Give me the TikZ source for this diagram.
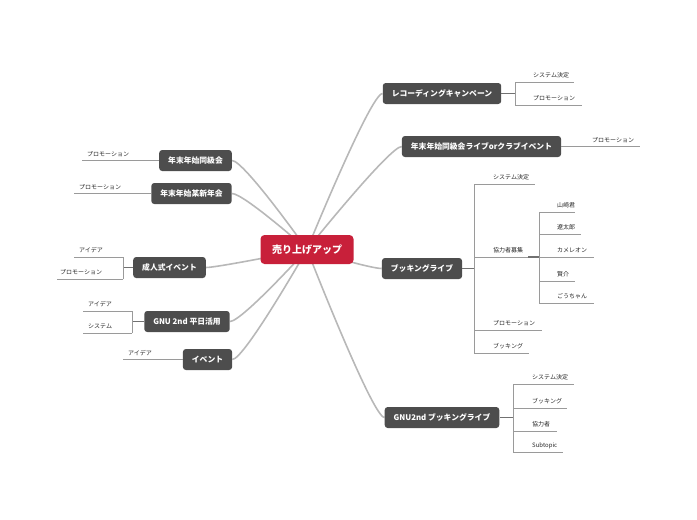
\documentclass[tikz,border=0pt]{standalone}
\usepackage{fontspec}
\setmainfont{Noto Sans CJK JP}
\usetikzlibrary{positioning, backgrounds}
\definecolor{hubred}{HTML}{C8203A}
\definecolor{topicgray}{HTML}{4D4D4D}
\definecolor{linkgray}{HTML}{B8B8B8}
\definecolor{twiggray}{HTML}{9A9A9A}

\begin{document}
\begin{tikzpicture}[x=1pt, y=-1pt,
    hub/.style={fill=hubred, text=white, rounded corners=4pt, minimum height=29pt, inner xsep=11.5pt, font=\fontsize{10}{10}\selectfont\bfseries},
    topic/.style={fill=topicgray, text=white, rounded corners=3pt, minimum height=21pt, inner xsep=9pt, font=\fontsize{7.8}{8}\selectfont\bfseries},
    leaf/.style={anchor=base west, inner sep=0pt, yshift=4.5pt, text=black!85, font=\fontsize{6}{6}\selectfont},
    link/.style={draw=linkgray, line width=1.6pt},
    conn/.style={draw=topicgray!80, line width=1.2pt},
    twig/.style={draw=twiggray, line width=0.5pt}]

\useasboundingbox (0,0) rectangle (697,520);

% main topic
\node[hub] (hub) at (307,249.5) {売り上げアップ};

% right side
\node[topic] (rec) at (442,93.5) {レコーディングキャンペーン};
\node[topic] (club) at (481.5,146.5) {年末年始同級会ライブorクラブイベント};
\node[topic] (book) at (422,268.5) {ブッキングライブ};
\node[topic] (gnubook) at (442,417.5) {GNU2nd ブッキングライブ};

% left side
\node[topic] (dokyu) at (195.5,160.5) {年末年始同級会};
\node[topic] (shinnen) at (191.5,193.5) {年末年始某新年会};
\node[topic] (seijin) at (169.5,267.5) {成人式イベント};
\node[topic] (heijitsu) at (187,321.5) {GNU 2nd 平日活用};
\node[topic] (event) at (207.5,359.5) {イベント};

\begin{scope}[on background layer]
  \foreach \t in {rec, club, book, gnubook}
    \draw[link] (hub.center) .. controls +(0,0) and +(-12,0) .. (\t.west);
  \foreach \t in {dokyu, shinnen, seijin, heijitsu, event}
    \draw[link] (hub.center) .. controls +(0,0) and +(12,0) .. (\t.east);
\end{scope}

% レコーディングキャンペーン
\coordinate (recb) at (515,93.5);
\draw[conn] (rec.east) -- (recb);
\draw[twig] (515,82) -- (515,105);
\foreach \y/\e/\t [count=\i] in {82/574/システム決定, 105/582/プロモーション}{
  \draw[twig] (515,\y) -- (\e,\y);
  \node[leaf] (rec\i) at (533,\y) {\t};
}

% 年末年始同級会ライブ
\coordinate (clube) at (640,146.5);
\draw[twig] (club.east) -- (clube);
\node[leaf] (club1) at (592,146.5) {プロモーション};

% ブッキングライブ
\coordinate (bookb) at (474,268.5);
\draw[conn] (book.east) -- (bookb);
\draw[twig] (474,184) -- (474,353);
\foreach \y/\e/\t [count=\i] in {184/535/システム決定, 257/528/協力者募集, 330/542/プロモーション, 353/529/ブッキング}{
  \draw[twig] (474,\y) -- (\e,\y);
  \node[leaf] (book\i) at (493,\y) {\t};
}
\draw[conn] (528,257) -- (539,257);
\draw[twig] (539,212) -- (539,303);
\foreach \y/\e/\t [count=\i] in {212/575/山崎君, 234/581/遼太郎, 257/594/カメレオン, 281/575/賢介, 303/594/ごうちゃん}{
  \draw[twig] (539,\y) -- (\e,\y);
  \node[leaf] (help\i) at (557,\y) {\t};
}

% GNU2nd ブッキングライブ
\coordinate (gnub) at (513,417.5);
\draw[conn] (gnubook.east) -- (gnub);
\draw[twig] (513,384) -- (513,452);
\foreach \y/\e/\t [count=\i] in {384/574/システム決定, 408/567/ブッキング, 431/557/協力者, 452/563/Subtopic}{
  \draw[twig] (513,\y) -- (\e,\y);
  \node[leaf] (gnub\i) at (532,\y) {\t};
}

% left leaves
\coordinate (dokyue) at (82,160.5);
\draw[twig] (dokyu.west) -- (dokyue);
\node[leaf] (dokyu1) at (87,160.5) {プロモーション};

\coordinate (shinnene) at (74,193.5);
\draw[twig] (shinnen.west) -- (shinnene);
\node[leaf] (shinnen1) at (79,193.5) {プロモーション};

\coordinate (seijinb) at (123,267.5);
\draw[conn] (seijin.west) -- (seijinb);
\draw[twig] (123,257) -- (123,279);
\draw[twig] (123,257) -- (74,257);
\node[leaf] (seijin1) at (79,257) {アイデア};
\draw[twig] (123,279) -- (57,279);
\node[leaf] (seijin2) at (60,279) {プロモーション};

\coordinate (heijitsub) at (132,321.5);
\draw[conn] (heijitsu.west) -- (heijitsub);
\draw[twig] (132,311) -- (132,333);
\draw[twig] (132,311) -- (83,311);
\node[leaf] (heijitsu1) at (88,311) {アイデア};
\draw[twig] (132,333) -- (83,333);
\node[leaf] (heijitsu2) at (88,333) {システム};

\coordinate (evente) at (123,359.5);
\draw[twig] (event.west) -- (evente);
\node[leaf] (event1) at (128,359.5) {アイデア};

\end{tikzpicture}
\end{document}
